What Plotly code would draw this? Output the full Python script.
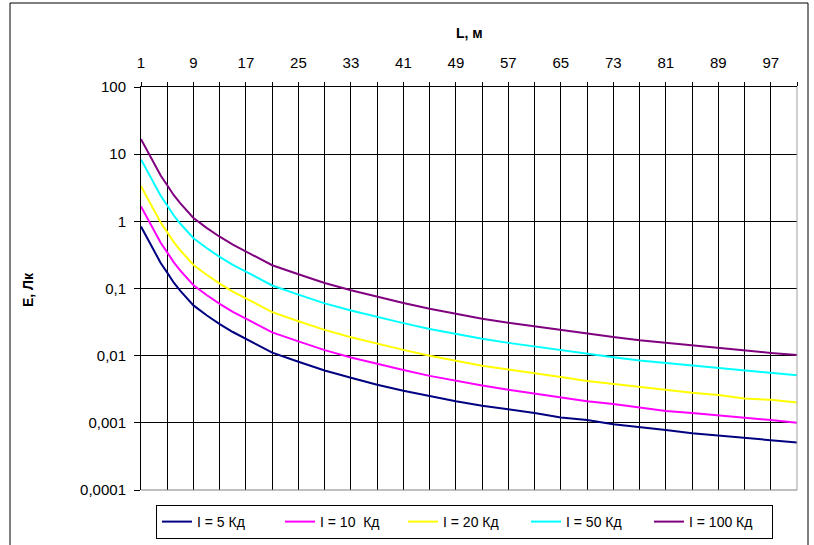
import plotly.graph_objects as go

L_vals = [1, 2, 3, 4, 5, 6, 7, 8, 9, 11, 13, 15, 17, 19, 21, 25, 29, 33, 37, 41, 45,
          49, 53, 57, 61, 65, 69, 73, 77, 81, 85, 89, 93, 97, 101]

E_5 = [0.835, 0.555, 0.355, 0.24, 0.172, 0.122, 0.092, 0.072, 0.056, 0.04, 0.0295, 0.0225,
       0.0178, 0.014, 0.0111, 0.0081, 0.006, 0.0047, 0.0037, 0.003, 0.0025, 0.0021, 0.0018, 0.0016,
       0.0014, 0.0012, 0.0011, 0.00095, 0.00085, 0.00078, 0.0007, 0.00065, 0.00059, 0.00055, 0.00051]
E_10 = [1.67, 1.11, 0.71, 0.48, 0.345, 0.245, 0.185, 0.145, 0.112, 0.08, 0.059, 0.045, 0.0355,
        0.028, 0.0222, 0.0163, 0.0121, 0.0094, 0.0075, 0.0061, 0.005, 0.0042, 0.0036, 0.0031, 0.0027,
        0.0024, 0.0021, 0.0019, 0.0017, 0.0015, 0.0014, 0.0013, 0.0012, 0.0011, 0.001]
E_20 = [3.34, 2.22, 1.42, 0.96, 0.69, 0.49, 0.37, 0.29, 0.224, 0.16, 0.118, 0.09, 0.071, 0.056,
        0.0444, 0.0326, 0.0242, 0.0188, 0.015, 0.0122, 0.010, 0.0084, 0.0071, 0.0062, 0.0055, 0.0048,
        0.0042, 0.0038, 0.0034, 0.0031, 0.0028, 0.0026, 0.0023, 0.0022, 0.002]
E_50 = [8.35, 5.55, 3.55, 2.4, 1.72, 1.22, 0.92, 0.72, 0.56, 0.40, 0.295, 0.225, 0.178, 0.14,
        0.111, 0.081, 0.060, 0.047, 0.0375, 0.0305, 0.025, 0.021, 0.0178, 0.0155, 0.0137, 0.0119,
        0.0105, 0.0095, 0.0085, 0.0078, 0.0071, 0.0065, 0.0059, 0.0055, 0.0051]
E_100 = [16.7, 11.1, 7.1, 4.8, 3.45, 2.45, 1.85, 1.45, 1.12, 0.80, 0.59, 0.45, 0.355, 0.28,
         0.222, 0.163, 0.121, 0.094, 0.075, 0.061, 0.050, 0.042, 0.0355, 0.031, 0.0274, 0.0238,
         0.0211, 0.019, 0.0169, 0.0155, 0.0141, 0.013, 0.0117, 0.011, 0.0102]

series_names = ["I = 5 Кд", "I = 10  Кд", "I = 20 Кд", "I = 50 Кд", "I = 100 Кд"]
series_vals = [E_5, E_10, E_20, E_50, E_100]
series_colors = ["#000080", "#FF00FF", "#FFFF00", "#00FFFF", "#800080"]

x_tick_vals = list(range(1, 102, 4))
x_tick_text = [str(v) if (v - 1) % 8 == 0 and v <= 97 else "" for v in x_tick_vals]
y_tick_vals = [0.0001, 0.001, 0.01, 0.1, 1, 10, 100]
y_tick_text = ["0,0001", "0,001", "0,01", "0,1", "1", "10", "100"]

FONT = "Liberation Sans, Arial, sans-serif"

fig = go.Figure()
for name, vals, col in zip(series_names, series_vals, series_colors):
    fig.add_trace(go.Scatter(x=L_vals, y=vals, mode="lines", name=name,
                             line=dict(color=col, width=2)))

# pixel -> paper helpers (plot area 141..797 x, 87..490 y)
PL, PR, PT, PB = 141, 797, 87, 490
def px(x):
    return (x - PL) / (PR - PL)
def py(y):
    return (PB - y) / (PB - PT)

fig.update_layout(
    width=814, height=545,
    margin=dict(l=PL, r=814 - PR, t=PT, b=545 - PB, autoexpand=False),
    paper_bgcolor="white", plot_bgcolor="white",
    font=dict(family=FONT, size=15, color="black"),
    showlegend=True,
    legend=dict(orientation="h", x=px(156), xanchor="left", y=py(505), yanchor="top",
                bordercolor="black", borderwidth=1, bgcolor="white",
                font=dict(family=FONT, size=14), itemwidth=30,
                entrywidth=78, entrywidthmode="pixels", tracegroupgap=0),
    xaxis=dict(side="top", range=[1, 101], tickmode="array", tickvals=x_tick_vals,
               ticktext=x_tick_text, showgrid=True, gridcolor="black", gridwidth=1,
               showline=True, linecolor="black", linewidth=1, ticks="outside",
               ticklen=4, tickcolor="black", zeroline=False, ticklabelstandoff=8,
               tickfont=dict(family=FONT, size=15)),
    yaxis=dict(type="log", range=[-4, 2], tickmode="array", tickvals=y_tick_vals,
               ticktext=y_tick_text, showgrid=True, gridcolor="black", gridwidth=1,
               showline=True, linecolor="black", linewidth=1, ticks="outside",
               ticklen=6, tickcolor="black", zeroline=False, ticklabelstandoff=5,
               tickfont=dict(family=FONT, size=15)),
    annotations=[
        dict(text="<b>L, м</b>", x=px(469), y=py(33), xref="paper", yref="paper",
             xanchor="center", yanchor="middle",
             showarrow=False, font=dict(family=FONT, size=14)),
        dict(text="<b>E, Лк</b>", x=px(28), y=py(290), xref="paper", yref="paper",
             xanchor="center", yanchor="middle",
             showarrow=False, textangle=-90, font=dict(family=FONT, size=14)),
    ],
    shapes=[
        # outer chart frame
        dict(type="rect", xref="paper", yref="paper", x0=px(10), x1=px(808),
             y0=py(560), y1=py(3), line=dict(color="black", width=1), layer="below"),
        # right and bottom plot-area border
        dict(type="line", xref="paper", yref="paper", x0=1, x1=1, y0=0, y1=1,
             line=dict(color="#a0a0a0", width=1)),
        dict(type="line", xref="paper", yref="paper", x0=0, x1=1, y0=0, y1=0,
             line=dict(color="#808080", width=1)),
    ],
)

fig.write_html("out.html", config={"displayModeBar": False},
               post_script="document.body.style.margin='0';document.body.style.padding='0';")
